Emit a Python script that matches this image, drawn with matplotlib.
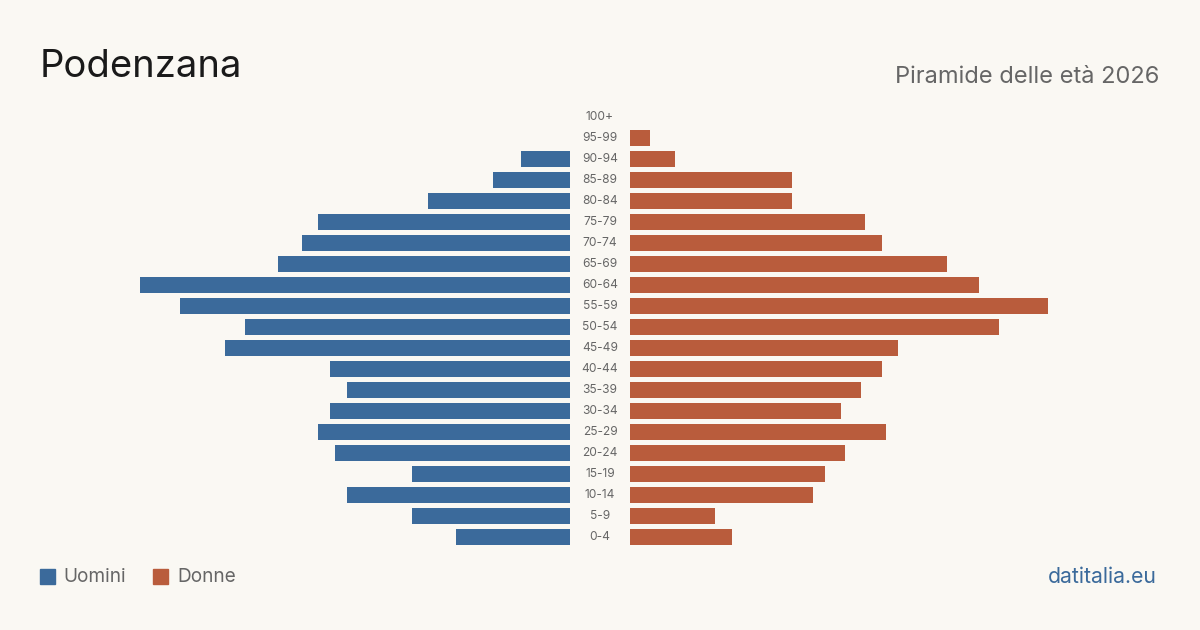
import numpy as np
import matplotlib.pyplot as plt
from matplotlib.transforms import blended_transform_factory
from matplotlib.patches import Rectangle

plt.rcParams['font.family'] = ['Inter', 'DejaVu Sans']

ages = ['100+', '95-99', '90-94', '85-89', '80-84', '75-79', '70-74', '65-69',
        '60-64', '55-59', '50-54', '45-49', '40-44', '35-39', '30-34', '25-29',
        '20-24', '15-19', '10-14', '5-9', '0-4']
uomini = [0, 0, 12, 19, 35, 62, 66, 72, 106, 96, 80, 85, 59, 55, 59, 62, 58, 39, 55, 39, 28]
donne = [0, 5, 11, 40, 40, 58, 62, 78, 86, 103, 91, 66, 62, 57, 52, 63, 53, 48, 45, 21, 25]

bg = '#faf8f3'
blue = '#3b6a9b'
orange = '#b95c3c'
grey = '#666666'

W, H = 1200, 630
fig = plt.figure(figsize=(12, 6.3), dpi=100, facecolor=bg)

px = 4.06  # pixels per person
y0 = 630 - 547.5
y1 = 630 - 106.5
axL = fig.add_axes([40 / W, y0 / H, 530 / W, (y1 - y0) / H])
axR = fig.add_axes([630 / W, y0 / H, 530 / W, (y1 - y0) / H])

ypos = np.arange(len(ages))
for ax in (axL, axR):
    ax.set_facecolor('none')
    ax.set_ylim(len(ages) - 0.5, -0.5)
    ax.axis('off')

axL.barh(ypos, uomini, height=0.8, color=blue)
axL.set_xlim(530 / px, 0)
axR.barh(ypos, donne, height=0.8, color=orange)
axR.set_xlim(0, 530 / px)

tr = blended_transform_factory(fig.transFigure, axL.transData)
for i, lab in enumerate(ages):
    axL.text(600 / W, i, lab, transform=tr, ha='center', va='center',
             fontsize=8.6, color=grey)

fig.text(40 / W, 1 - 67 / H, 'Podenzana', fontsize=27.5, color='#1a1a1a',
         ha='left', va='center')
fig.text(1159 / W, 1 - 77 / H, 'Piramide delle età 2026', fontsize=17,
         color=grey, ha='right', va='center')

fig.patches.append(Rectangle((40 / W, 1 - 584 / H), 15 / W, 15 / H,
                             transform=fig.transFigure, color=blue))
fig.text(63 / W, 1 - 577 / H, 'Uomini', fontsize=13.7, color=grey,
         ha='left', va='center')
fig.patches.append(Rectangle((153 / W, 1 - 584 / H), 15 / W, 15 / H,
                             transform=fig.transFigure, color=orange))
fig.text(177 / W, 1 - 577 / H, 'Donne', fontsize=13.7, color=grey,
         ha='left', va='center')
fig.text(1157 / W, 1 - 577 / H, 'datitalia.eu', fontsize=15.3, color=blue,
         ha='right', va='center')

fig.savefig('out.png', dpi=100, facecolor=bg)
